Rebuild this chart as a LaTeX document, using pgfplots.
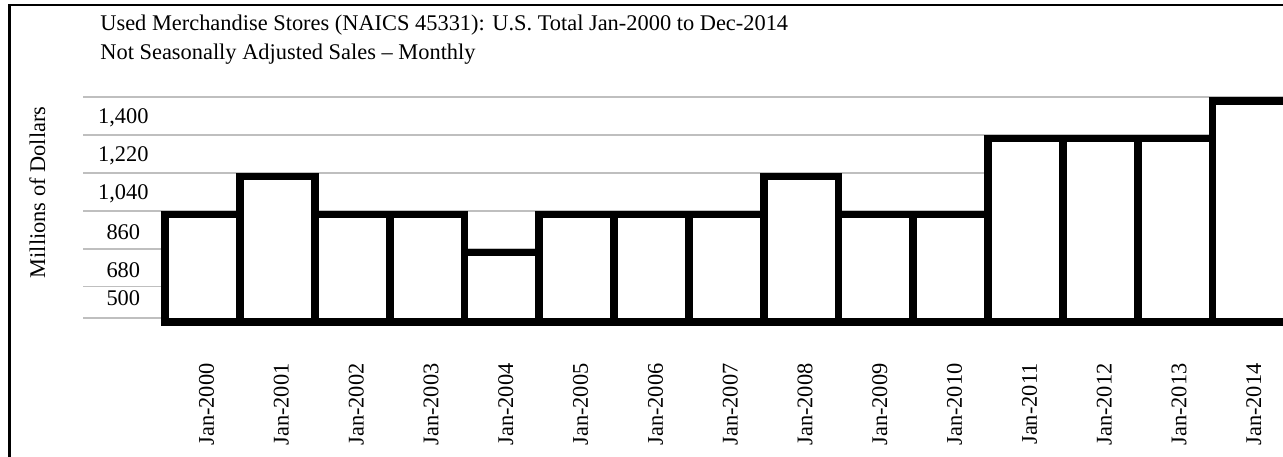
\documentclass[border=0pt]{standalone}
\usepackage{pgfplots}
\pgfplotsset{compat=1.18}
\usepackage{fontspec}
\setmainfont{Liberation Serif}
\definecolor{gridgray}{HTML}{BFBFBF}
\begin{document}
\begin{tikzpicture}
\fontsize{11.2}{13.4}\selectfont
% frame (cut at the right and bottom like the reference)
\draw[line width=1.15pt] (4.75pt,-10pt) -- (4.75pt,225.5pt) -- (660pt,225.5pt);
% titles
\node[anchor=base west, inner sep=0pt] at (50pt,212.8pt) {Used Merchandise Stores (NAICS 45331): U.S. Total Jan-2000 to Dec-2014};
\node[anchor=base west, inner sep=0pt] at (50pt,198.0pt) {Not Seasonally Adjusted Sales -- Monthly};
% y label
\node[rotate=90, anchor=base, inner sep=0pt] at (22.5pt,131.75pt) {Millions of Dollars};
\begin{axis}[
  at={(41.65pt,68.85pt)}, anchor=south west,
  scale only axis, width=601.95pt, height=110.8pt,
  xmin=-1.595, xmax=14.5, ymin=450, ymax=1500,
  clip=false,
  axis line style={draw=none}, tick style={draw=none},
  major tick length=0pt,
  xtick={0,...,14},
  xticklabels={Jan-2000,Jan-2001,Jan-2002,Jan-2003,Jan-2004,Jan-2005,Jan-2006,Jan-2007,Jan-2008,Jan-2009,Jan-2010,Jan-2011,Jan-2012,Jan-2013,Jan-2014},
  xticklabel style={xshift=2pt, rotate=90, anchor=east, inner sep=0pt, font=\fontsize{11.2}{13.4}\selectfont},
  xticklabel shift=22.35pt,
  ytick={500,680,860,1040,1220,1400},
  yticklabels={\raisebox{10pt}{500},680,860,{1,040},{1,220},{1,400}},
  yticklabel style={anchor=center, xshift=20pt, font=\fontsize{11.2}{13.4}\selectfont},
  extra y ticks={450,600,780,960,1140,1320,1500},
  extra y tick labels={},
  extra y tick style={grid=major},
  major grid style={draw=gridgray, line width=0.85pt},
]
\addplot[ybar, bar width=1, draw=black, fill=white, line width=3.9pt, yshift=-1.95pt] coordinates {
(0,960) (1,1140) (2,960) (3,960) (4,780) (5,960) (6,960) (7,960)
(8,1140) (9,960) (10,960) (11,1320) (12,1320) (13,1320) (14,1500)
};
\end{axis}
\pgfresetboundingbox
\useasboundingbox (0,0) rectangle (641.5pt,228pt);
\end{tikzpicture}
\end{document}
